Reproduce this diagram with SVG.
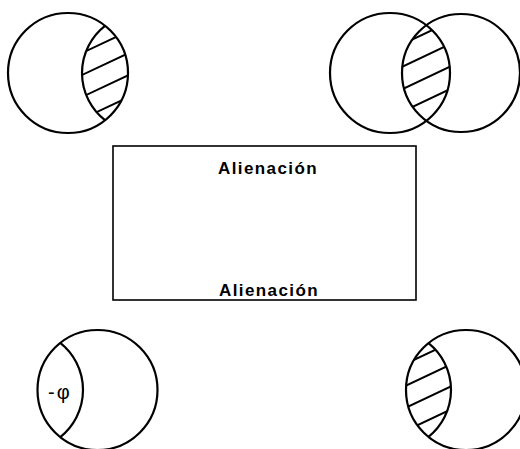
<svg xmlns="http://www.w3.org/2000/svg" width="520" height="449" viewBox="0 0 520 449">
<style>
.c{fill:none;stroke:#000;stroke-width:2.2}
.h{fill:none;stroke:#000;stroke-width:2}
.t{font-family:"Liberation Sans",Arial,sans-serif;font-weight:bold;font-size:17px;letter-spacing:1.4px;fill:#000}
.p{font-family:"Liberation Sans",Arial,sans-serif;font-size:20px;letter-spacing:2px;fill:#000}
</style>
<defs>
<clipPath id="tlA"><circle cx="68" cy="73" r="60"/></clipPath>
<clipPath id="tlB"><circle cx="142" cy="73" r="60"/></clipPath>
<clipPath id="trA"><circle cx="390" cy="73" r="60"/></clipPath>
<clipPath id="trB"><circle cx="461" cy="73" r="59"/></clipPath>
<clipPath id="brA"><circle cx="466" cy="390" r="60"/></clipPath>
<clipPath id="brB"><circle cx="391" cy="390" r="60"/></clipPath>
</defs>
<g id="top-left">
<circle class="c" cx="68" cy="73" r="60"/>
<path class="c" d="M105,120.23 A60,60 0 0,1 105,25.77"/>
<g clip-path="url(#tlA)"><g clip-path="url(#tlB)">
<path class="h" d="M65,61 L145,23.4 M65,83 L145,45.4 M65,105 L145,67.4 M65,127 L145,89.4"/>
</g></g>
</g>
<g id="top-right">
<circle class="c" cx="390" cy="73" r="60"/>
<circle class="c" cx="461" cy="73" r="59"/>
<g clip-path="url(#trA)"><g clip-path="url(#trB)">
<path class="h" d="M386,51.8 L466,14.2 M386,74.3 L466,36.7 M386,96.8 L466,59.2 M386,119.3 L466,81.7"/>
</g></g>
</g>
<g id="center-box">
<rect x="113" y="146" width="303" height="154" fill="none" stroke="#000" stroke-width="1.6"/>
<text class="t" x="218" y="174">Alienación</text>
<text class="t" x="219" y="296">Alienación</text>
</g>
<g id="bottom-left">
<circle class="c" cx="97.5" cy="390" r="60"/>
<path class="c" d="M60.25,342.96 A60,60 0 0,1 60.25,437.04"/>
<text class="p" x="48" y="399">-φ</text>
</g>
<g id="bottom-right">
<circle class="c" cx="466" cy="390" r="60"/>
<path class="c" d="M428.5,343.16 A60,60 0 0,1 428.5,436.84"/>
<g clip-path="url(#brA)"><g clip-path="url(#brB)">
<path class="h" d="M388.5,371.8 L468.5,334.2 M388.5,393.8 L468.5,356.2 M388.5,415.8 L468.5,378.2 M388.5,438.8 L468.5,401.2"/>
</g></g>
</g>
<g id="connectors"/>
</svg>
